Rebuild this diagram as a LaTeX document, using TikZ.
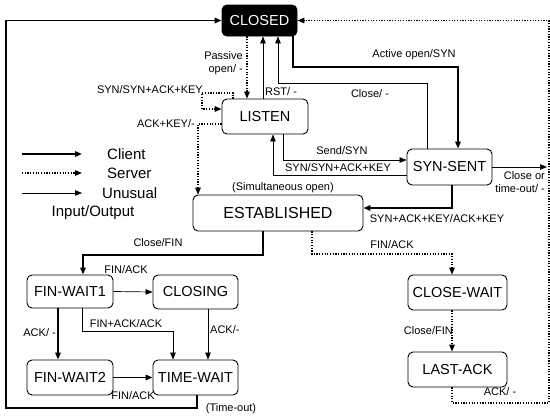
\documentclass[tikz,border=0pt]{standalone}
\usepackage{fontspec}
\setmainfont{Liberation Sans}
\usetikzlibrary{arrows.meta}
\begin{document}
\begin{tikzpicture}[x=1pt,y=-1pt,
  state/.style={draw,line width=0.9pt,rounded corners=5pt,inner sep=0pt,
    font=\fontsize{14.5}{16}\selectfont},
  lbl/.style={inner sep=0pt,font=\fontsize{11}{12.5}\selectfont},
  leg/.style={inner sep=0pt,font=\fontsize{15}{17}\selectfont},
  tip/.style={-{Triangle[length=7pt,width=5.5pt]}},
  client/.style={tip,line width=1.7pt},
  server/.style={tip,line width=1.3pt,dash pattern=on 1.2pt off 1.5pt},
  unusual/.style={tip,line width=0.7pt}]
\useasboundingbox (0,0) rectangle (550,416);
% states
\node[state,fill=black,text=white,minimum width=75pt,minimum height=31pt] (closed) at (259.5,20.5) {CLOSED};
\node[state,minimum width=86pt,minimum height=35pt] (listen) at (265,116.5) {LISTEN};
\node[state,minimum width=85pt,minimum height=36pt] (synsent) at (449.5,167) {SYN-SENT};
\node[state,minimum width=170pt,minimum height=36pt,font=\fontsize{16}{18}\selectfont] (est) at (278,213) {ESTABLISHED};
\node[state,minimum width=86pt,minimum height=33pt] (fw1) at (70,291.5) {FIN-WAIT1};
\node[state,minimum width=85pt,minimum height=34pt] (closing) at (195.5,292) {CLOSING};
\node[state,minimum width=86pt,minimum height=35pt] (fw2) at (70,377.5) {FIN-WAIT2};
\node[state,minimum width=85pt,minimum height=35pt] (tw) at (195.5,377.5) {TIME-WAIT};
\node[state,minimum width=99pt,minimum height=35pt] (cw) at (457.5,292.5) {CLOSE-WAIT};
\node[state,minimum width=99pt,minimum height=35pt] (la) at (457.5,369.5) {LAST-ACK};
% CLOSED <-> LISTEN / SYN-SENT
\draw[server] (closed.south -| 247,0) -- (listen.north -| 247,0);
\node[lbl,align=right,anchor=east] (lpo) at (243,63) {Passive\\open/ -};
\draw[unusual] (listen.north -| 263,0) -- (closed.south -| 263,0);
\node[lbl,anchor=west] (lrst) at (265,92) {RST/ -};
\draw[unusual] (synsent.north -| 427,0) |- (278,83) -- (closed.south -| 278,0);
\node[lbl] (lclose) at (370,94) {Close/ -};
\draw[client] (closed.south -| 293,0) |- (458,67) -- (synsent.north -| 458,0);
\node[lbl] (lact) at (414,55) {Active open/SYN};
% LISTEN loops
\draw[server] (listen.north -| 233,0) |- (202,93) |- (listen.west |- 0,109);
\node[lbl,anchor=east] (lsyn1) at (203,90) {SYN/SYN+ACK+KEY};
\draw[server] (listen.west |- 0,124) -| (est.north -| 198,0);
\node[lbl,anchor=east] (lackkey) at (195,124) {ACK+KEY/-};
% LISTEN <-> SYN-SENT
\draw[unusual] (listen.south -| 283,0) |- (synsent.west |- 0,160);
\node[lbl] (lsend) at (342,151) {Send/SYN};
\draw[unusual] (synsent.west |- 0,175) -| (listen.south -| 273,0);
\node[lbl] (lsyn2) at (338,168) {SYN/SYN+ACK+KEY};
\coordinate (rt) at (547,167);
\draw[unusual] (synsent.east) -- (rt);
\node[lbl,align=right,anchor=east] (lcto) at (545,182) {Close or\\time-out/ -};
\draw[client] (synsent.south -| 452,0) |- (est.east |- 0,208);
\node[lbl] (lsak) at (437,219) {SYN+ACK+KEY/ACK+KEY};
\node[lbl] (lsim) at (283,188) {(Simultaneous open)};
% ESTABLISHED out
\draw[client] (est.south -| 263,0) |- (83,255) -- (fw1.north -| 83,0);
\node[lbl] (lcf) at (158,243) {Close/FIN};
\draw[server] (est.south -| 312,0) |- (452,254) -- (cw.north -| 452,0);
\node[lbl] (lfa) at (392,245) {FIN/ACK};
\draw[server] (cw.south -| 452,0) -- (la.north -| 452,0);
\node[lbl,anchor=east] (lcf2) at (453,331) {Close/FIN};
\draw[server] (la.south -| 452,0) |- (549,403) |- (closed.east);
\node[lbl] (lack3) at (500,392) {ACK/ -};
% closing side
\draw[unusual] (fw1.east) -- (closing.west);
\node[lbl] (lfa1) at (126,270) {FIN/ACK};
\draw[client] (fw1.south -| 58,0) -- (fw2.north -| 58,0);
\node[lbl,anchor=east] (lack1) at (56,333) {ACK/ -};
\draw[unusual] (fw1.south -| 82,0) |- (173,331) -- (tw.north -| 173,0);
\node[lbl] (lfaa) at (126,324) {FIN+ACK/ACK};
\draw[unusual] (closing.south -| 208,0) -- (tw.north -| 208,0);
\node[lbl,anchor=west] (lack2) at (210,330) {ACK/-};
\draw[client] (fw2.east) -- (tw.west);
\node[lbl] (lfa2) at (133,396) {FIN/ACK};
\draw[client] (tw.south -| 197,0) |- (6,408) |- (closed.west);
\node[lbl] (lto) at (231,409) {(Time-out)};
% legend
\coordinate (c1) at (22,154); \coordinate (c2) at (82,154);
\coordinate (s1) at (22,173); \coordinate (s2) at (82,173);
\coordinate (u1) at (22,193); \coordinate (u2) at (82,193);
\draw[client] (c1) -- (c2);
\draw[server] (s1) -- (s2);
\draw[unusual] (u1) -- (u2);
\node[leg,anchor=west] (lgc) at (107,154) {Client};
\node[leg,anchor=west] (lgs) at (107,173) {Server};
\node[leg,anchor=west] (lgu) at (102,193) {Unusual};
\node[leg] (lgio) at (93,213) {Input/Output};
\end{tikzpicture}
\end{document}
